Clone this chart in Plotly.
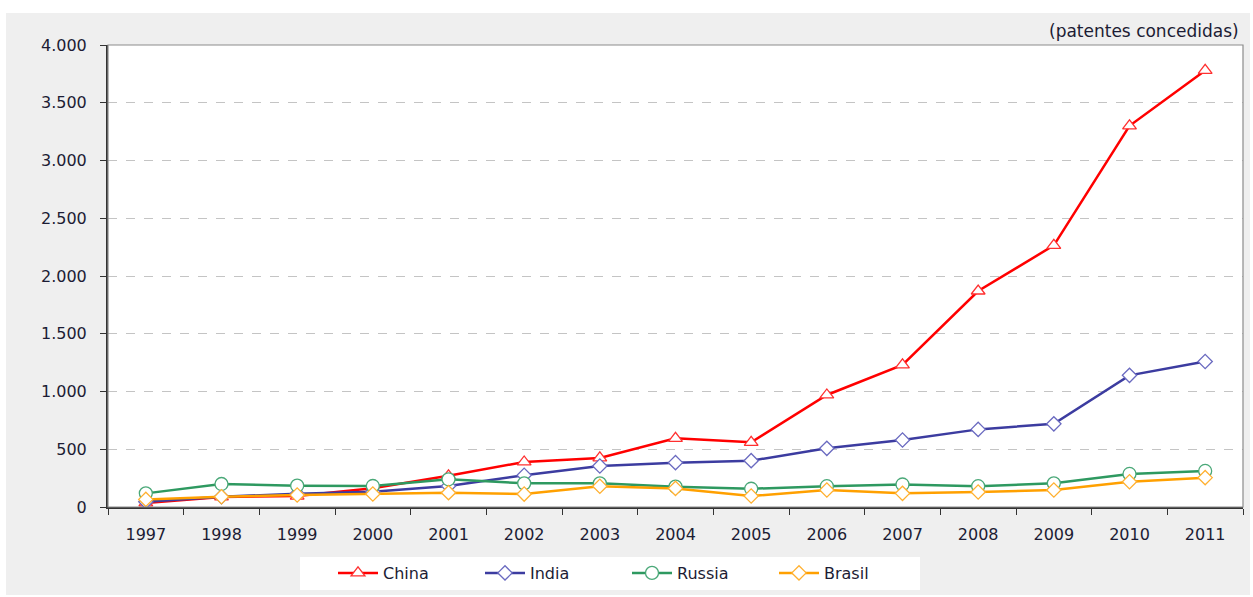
import plotly.graph_objects as go

years = [str(y) for y in range(1997, 2012)]
china = [35, 87, 95, 162, 270, 390, 425, 595, 560, 970, 1230, 1870, 2265, 3300, 3780]
india = [46, 89, 115, 133, 182, 275, 355, 384, 401, 508, 580, 672, 720, 1140, 1260]
russia = [118, 199, 185, 182, 240, 205, 205, 176, 158, 180, 195, 180, 205, 286, 312]
brasil = [66, 89, 104, 113, 124, 112, 180, 161, 95, 147, 118, 130, 147, 219, 254]
ytick_vals = [0, 500, 1000, 1500, 2000, 2500, 3000, 3500, 4000]

FONT = "DejaVu Sans"
TXT = "#1c1c34"
series = [
    ("China", china, "#ff0000", "#ff3030", "triangle-up", 12),
    ("India", india, "#3c3ca0", "#6a6ac0", "diamond", 11),
    ("Russia", russia, "#2e9960", "#4aa878", "circle", 13),
    ("Brasil", brasil, "#ffa000", "#ffb030", "diamond", 11),
]

fig = go.Figure()
for name, vals, lc, mc, sym, sz in series:
    fig.add_trace(go.Scatter(
        x=years, y=vals, name=name, mode="lines+markers",
        line=dict(color=lc, width=2.5),
        marker=dict(symbol=sym, size=sz, color="white", line=dict(color=mc, width=1.3)),
    ))

L, R, T, B = 108, 10, 45, 90
W, H = 1253, 597
pw, ph = W - L - R, H - T - B

def px_x(p):
    return (p - L) / pw

def px_y(p):
    return (H - B - p) / ph

shapes = [
    dict(type="rect", xref="paper", yref="paper", x0=px_x(6), x1=px_x(1250),
         y0=px_y(595), y1=px_y(13), fillcolor="#efefef", line=dict(width=0), layer="below"),
    dict(type="rect", xref="paper", yref="paper", x0=0, x1=1, y0=0, y1=1,
         fillcolor="white", line=dict(width=0), layer="below"),
    dict(type="rect", xref="paper", yref="paper", x0=px_x(300), x1=px_x(920),
         y0=px_y(590), y1=px_y(557), fillcolor="white", line=dict(width=0), layer="below"),
    dict(type="rect", xref="paper", yref="paper", x0=0, x1=1, y0=0, y1=1,
         fillcolor="rgba(0,0,0,0)", line=dict(color="#8c8c8c", width=1.2), layer="above"),
]

fig.update_layout(
    width=W, height=H,
    margin=dict(l=L, r=R, t=T, b=B, autoexpand=False),
    paper_bgcolor="white", plot_bgcolor="white",
    separators=",.",
    font=dict(family=FONT, size=16, color=TXT),
    shapes=shapes,
    showlegend=True,
    legend=dict(orientation="h", x=px_x(333), xanchor="left", y=px_y(556), yanchor="top",
                bgcolor="rgba(0,0,0,0)", font=dict(family=FONT, size=16, color=TXT),
                itemwidth=40, entrywidth=92, entrywidthmode="pixels", tracegroupgap=0),
    annotations=[dict(text="(patentes concedidas)", xref="paper", yref="paper",
                      x=px_x(1241), y=px_y(31), xanchor="right", yanchor="middle",
                      showarrow=False, font=dict(family=FONT, size=17, color=TXT))],
    xaxis=dict(type="category", tickson="boundaries", ticks="outside", ticklen=6,
               tickcolor="#333333", showline=True, linecolor="#333333", linewidth=2,
               showgrid=False, tickfont=dict(size=16), range=[-0.5, 14.5],
               ticklabelstandoff=12),
    yaxis=dict(range=[0, 4000], tickvals=ytick_vals, tickformat=",d", ticks="outside",
               ticklen=6, tickcolor="#333333", showline=True, linecolor="#333333",
               linewidth=2, showgrid=True, gridcolor="#c4c4c4", griddash="dash",
               gridwidth=1, zeroline=False, tickfont=dict(size=16),
               ticklabelstandoff=10),
)

fig.write_html("out.html")
